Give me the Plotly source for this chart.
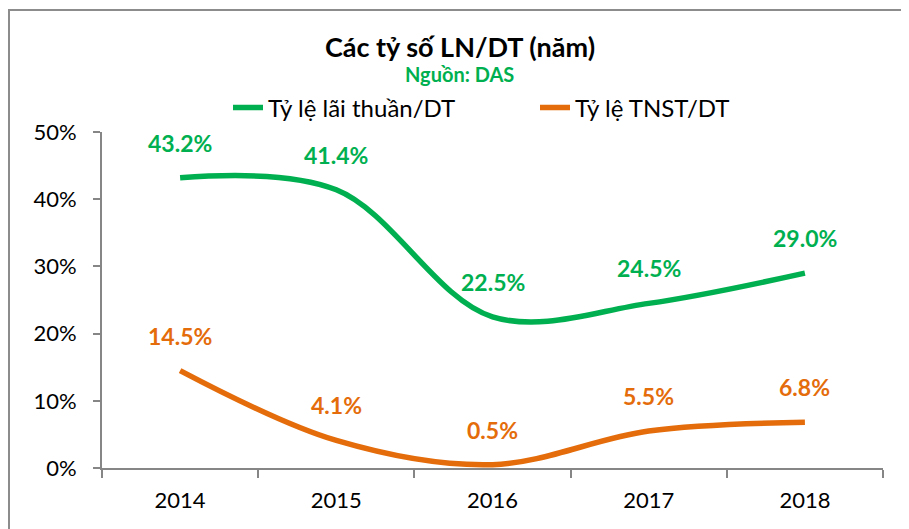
import plotly.graph_objects as go

years = ["2014", "2015", "2016", "2017", "2018"]
lai_thuan = [0.432, 0.414, 0.225, 0.245, 0.290]
tnst = [0.145, 0.041, 0.005, 0.055, 0.068]
lai_thuan_labels = ["43.2%", "41.4%", "22.5%", "24.5%", "29.0%"]
tnst_labels = ["14.5%", "4.1%", "0.5%", "5.5%", "6.8%"]
y_ticks = [0, 0.1, 0.2, 0.3, 0.4, 0.5]
y_tick_labels = ["0%", "10%", "20%", "30%", "40%", "50%"]

GREEN = "#00B050"
ORANGE = "#E46C0A"
FONT = "Lato"

# page is offset by the 8px body margin, so figure coords = page coords - 8
W, H = 901, 521
L, R_EDGE, T, B_EDGE = 94, 875, 124, 460
PW, PH = R_EDGE - L, B_EDGE - T


def px(x):
    return (x - L) / PW


def py(y):
    return (B_EDGE - y) / PH


fig = go.Figure()
fig.add_trace(go.Scatter(x=years, y=lai_thuan, mode="lines", name="Tỷ lệ lãi thuần/DT",
                         line=dict(color=GREEN, width=5.5, shape="spline", smoothing=1.0)))
fig.add_trace(go.Scatter(x=years, y=tnst, mode="lines", name="Tỷ lệ TNST/DT",
                         line=dict(color=ORANGE, width=5.5, shape="spline", smoothing=1.0)))

annotations = []
for ys, labs, col in [(lai_thuan, lai_thuan_labels, GREEN), (tnst, tnst_labels, ORANGE)]:
    for i, (y, t) in enumerate(zip(ys, labs)):
        annotations.append(dict(x=i, y=y, xref="x", yref="y", text="<b>" + t + "</b>",
                                showarrow=False, yshift=35,
                                font=dict(family=FONT, size=23, color=col)))

annotations.append(dict(text="<b>Nguồn: DAS</b>", xref="paper", yref="paper",
                        x=px(451), y=py(66), xanchor="center", yanchor="middle",
                        showarrow=False,
                        font=dict(family=FONT, size=20, color=GREEN)))

fig.update_layout(
    width=W, height=H,
    margin=dict(l=L, r=W - R_EDGE, t=T, b=H - B_EDGE, autoexpand=False),
    paper_bgcolor="white", plot_bgcolor="white",
    font=dict(family=FONT, color="black"),
    title=dict(text="<b>Các tỷ số LN/DT (năm)</b>", x=452 / W, xanchor="center",
               y=1 - 40 / H, yanchor="middle", yref="container",
               font=dict(family=FONT, size=27, color="black")),
    legend=dict(orientation="h", x=px(220), xanchor="left",
                y=py(100), yanchor="middle",
                font=dict(family=FONT, size=24, color="black"),
                bgcolor="rgba(0,0,0,0)", entrywidth=262),
    annotations=annotations,
    xaxis=dict(type="category", range=[-0.5, 4.5], showgrid=False, showline=True,
               linecolor="#868686", linewidth=2,
               ticks="outside", tickson="boundaries", ticklen=8, tickcolor="#868686", tickwidth=2,
               tickfont=dict(family=FONT, size=22, color="black"), zeroline=False, tickangle=0,
               ticklabelstandoff=12),
    yaxis=dict(range=[0, 0.5], tickvals=y_ticks, ticktext=y_tick_labels, showgrid=False,
               showline=True, linecolor="#868686", linewidth=2, ticks="outside", ticklen=7,
               tickcolor="#868686", tickwidth=2, zeroline=False,
               tickfont=dict(family=FONT, size=22, color="black"), ticklabelstandoff=12),
    shapes=[
        dict(type="rect", xref="paper", yref="paper",
             x0=px(1), x1=px(915), y0=py(530), y1=py(2),
             line=dict(color="#8C8C8C", width=2), fillcolor="rgba(0,0,0,0)", layer="below"),
    ],
)

fig.write_html("out.html")
